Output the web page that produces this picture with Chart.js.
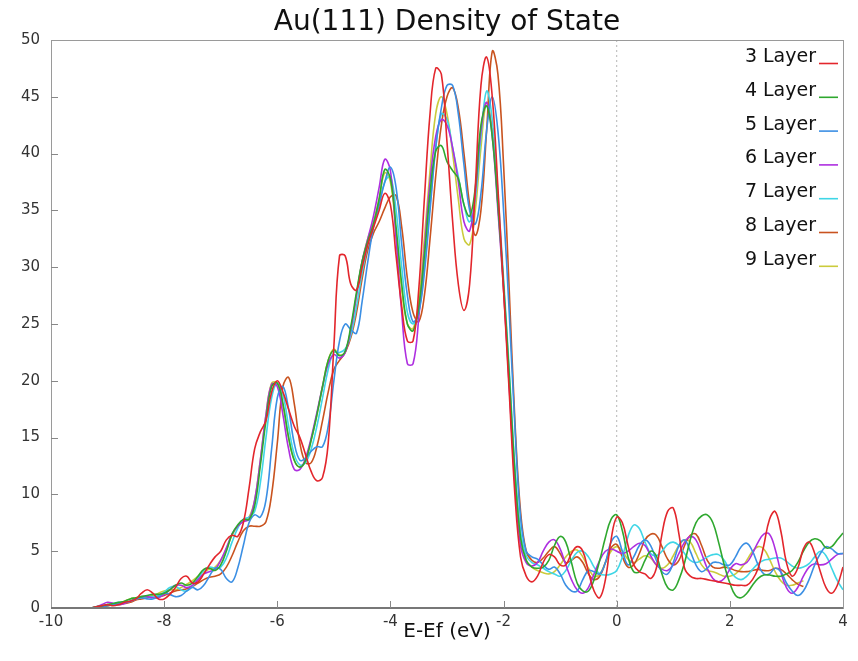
<!doctype html>
<html>
<head>
<meta charset="utf-8">
<title>Au(111) Density of State</title>
<script src="https://cdn.jsdelivr.net/npm/chart.js@4.4.0/dist/chart.umd.min.js"></script>
<style>
  html, body { margin: 0; padding: 0; background: #fff; }
</style>
</head>
<body>
<canvas id="myChart" width="858" height="661"></canvas>
<script>
// energy grid, E - Ef in eV, 0.1 eV steps from -10 to 4
var energy = [];
for (var i = 0; i <= 140; i++) energy.push(Math.round((-10 + i * 0.1) * 10) / 10);

var layerNames = ['3 Layer', '4 Layer', '5 Layer', '6 Layer', '7 Layer', '8 Layer', '9 Layer'];
var layerColors = ['#e3262c', '#2fa82f', '#3b8fe4', '#ae2fe0', '#3fd6e6', '#c9531f', '#cbcb3c'];

// one row = 1 eV (10 samples), last value is E = 4.0
var dos3 = [
  0,0,0,0,0,0,0,0,0.1,0.2,
  0.3,0.2,0.3,0.5,0.6,0.8,1.3,1.6,1.3,0.8,
  0.8,1.2,1.8,2.6,2.8,2.2,2.3,3.0,3.8,4.5,
  5.0,6.0,6.4,6.3,7.5,10.5,14,15.5,16.5,19,
  20,19,17.5,16,15,13.5,12,11.2,11.5,14.5,
  23,31,31,28.5,28,30,32,33.5,35,36.5,
  35.5,31,26.5,23.5,23.5,28,36,43.5,47.5,47,
  41,34,28.5,26.2,28.5,37,46,48.5,45,37,
  28,19,10,4.5,2.8,2.3,2.8,4.0,4.7,4.5,
  3.8,3.8,4.8,5.4,5.0,3.2,1.5,0.9,2.5,6.0,
  8.0,7.5,5.5,3.8,3.2,3.0,2.6,3.5,6.5,8.5,
  8.8,6.5,3.5,2.8,2.6,2.6,2.5,2.4,2.3,2.2,
  2.1,2.0,2.0,2.0,2.5,3.5,5.5,7.8,8.5,6.8,
  4.0,2.8,3.5,5.2,5.8,4.8,3.2,1.8,1.3,2.0,
  3.6
];
var dos4 = [
  0,0,0,0,0,0,0,0,0.1,0.2,
  0.3,0.4,0.5,0.6,0.8,0.9,1.0,1.1,1.2,1.2,
  1.3,1.6,2.0,2.2,2.0,2.2,2.8,3.4,3.5,3.3,
  3.8,5.0,6.5,7.3,7.8,7.8,9.0,12.5,16.5,19.5,
  19.8,18,15,13,12.4,13,14.8,17,19.5,21.8,
  22.7,22.2,22.6,24.8,27.8,30.5,32.3,33.8,36,38.6,
  37.8,33.5,28.5,25,24.4,26.5,31,36.5,40.2,40.7,
  39.3,38.5,37.8,35.5,34.5,37,42.5,44.2,41.5,35.5,
  28.5,20.5,12,6.2,4.2,3.6,3.5,3.6,4.2,5.5,
  6.3,5.8,4.0,2.2,1.5,1.5,2.5,4.2,6.2,7.8,
  8.2,6.8,4.5,3.2,3.2,4.2,5.0,4.6,3.0,1.8,
  1.6,2.5,4.0,6.0,7.5,8.1,8.2,7.5,5.8,3.8,
  2.2,1.1,0.9,1.3,2.0,2.6,2.9,2.9,2.8,2.8,
  3.0,3.3,4.0,5.0,5.8,6.1,5.9,5.3,5.4,6.0,
  6.6
];
var dos5 = [
  0,0,0,0,0,0,0,0,0,0.1,
  0.2,0.3,0.4,0.5,0.6,0.8,0.9,0.8,0.8,1.0,
  1.3,1.2,1.0,1.1,1.5,1.8,1.6,2.0,2.8,3.5,
  3.4,2.6,2.3,3.5,5.5,7.5,8.2,8.0,9.5,14,
  18.5,19.5,17.5,14.5,13,13.2,13.8,14.2,14.2,16,
  20,23.5,25,24.5,24.2,27,30.5,33.5,35.5,37.5,
  38.8,37,32,27.5,25.2,26,29.5,35,40.5,44,
  46,46,43.5,39,35,33.8,36.5,42,45,42,
  35,26,16,8,5,4.5,4.3,3.8,3.4,3.6,
  3.0,2.0,1.5,1.5,2.5,3.3,3.2,3.0,4.0,5.8,
  6.3,5.0,3.8,4.5,5.5,6.0,5.5,4.2,3.2,3.0,
  4.0,5.5,6.0,5.0,3.8,3.2,3.5,4.0,4.0,3.8,
  3.8,4.5,5.4,5.7,5.0,3.8,3.0,3.0,3.5,3.2,
  2.2,1.5,1.1,1.5,2.5,3.8,4.8,5.4,5.2,4.8,
  4.8
];
var dos6 = [
  0,0,0,0,0,0,0,0,0.1,0.3,
  0.5,0.4,0.3,0.4,0.6,0.8,1.0,1.0,0.9,0.9,
  1.2,1.6,2.0,2.0,1.8,2.0,2.5,3.0,3.2,3.4,
  4.2,5.3,6.5,7.2,7.6,7.8,9.5,13,17,19.7,
  19.5,17,14,12.2,12.2,13.2,15,17.2,19.5,21.5,
  22.3,22,22.5,24.5,27.5,30.5,32.5,34.5,37,39.5,
  38.5,32.5,26,21.5,21.5,25.5,31.5,37.5,41.5,43,
  42.5,40.5,37.5,34,33.2,36.5,42,44.5,41.5,35,
  28,19.5,11,5.5,4.0,3.7,4.0,5.0,5.8,6.0,
  5.2,3.8,2.5,1.6,1.3,1.8,3.0,4.2,5.0,5.2,
  5.0,4.8,5.0,5.4,5.7,5.5,4.6,3.8,3.4,3.3,
  3.8,4.8,5.8,6.3,6.0,4.8,3.5,2.6,2.3,2.6,
  3.4,3.9,3.8,4.0,4.8,5.8,6.5,6.5,5.2,3.2,
  1.8,1.3,1.8,2.8,3.6,3.9,3.8,3.9,4.3,4.7,
  4.8
];
var dos7 = [
  0,0,0,0,0,0,0,0,0.1,0.2,
  0.3,0.4,0.5,0.5,0.6,0.8,0.9,1.0,1.0,1.1,
  1.4,1.8,1.9,1.6,1.5,1.9,2.6,3.3,3.6,3.5,
  3.6,4.4,5.8,7.0,7.8,8.0,8.5,11,15,18.5,
  19.8,18.8,16,13.5,12.6,12.8,14,16,18.5,21,
  22.5,22.5,22.8,24,26.5,29.5,32,33.8,35.5,37.5,
  38,35,30,26,25,26,30,35.5,40.5,43.5,
  43,40.5,38,35.5,34,36,41.5,45.5,43,36.5,
  29,21,12.5,6.8,4.6,4.0,3.8,3.5,3.2,3.0,
  2.8,3.3,4.2,4.9,5.0,4.5,3.6,3.0,2.9,3.0,
  3.3,4.5,6.3,7.3,7.0,5.8,4.8,4.6,5.0,5.6,
  5.8,5.5,4.8,4.2,4.0,4.2,4.5,4.7,4.7,4.2,
  3.3,2.7,2.5,2.8,3.4,3.9,4.2,4.3,4.4,4.4,
  4.1,3.7,3.5,3.6,3.9,4.5,5.0,4.6,3.5,2.4,
  1.6
];
var dos8 = [
  0,0,0,0,0,0,0,0,0,0.1,
  0.2,0.3,0.3,0.4,0.5,0.7,0.8,0.9,1.0,1.0,
  1.1,1.3,1.5,1.6,1.7,1.9,2.2,2.5,2.7,2.8,
  3.0,3.6,4.6,5.8,6.8,7.2,7.2,7.2,7.6,10,
  14.5,19.5,20.3,18,14.5,12.8,12.8,14.2,16.5,19,
  21,21.8,22.5,23.8,26,29,31.5,33,34,35.2,
  36.2,36.3,33.5,29,26,25.2,27.5,32.5,38,42.5,
  45,45.8,44,40,35.5,32.8,35,42,49,47,
  39,28,16.5,8.5,5.0,4.2,4.0,4.4,5.0,5.4,
  4.8,4.0,4.2,4.5,4.0,3.0,2.5,2.8,4.0,5.3,
  5.6,4.5,3.6,3.8,4.8,6.0,6.5,6.4,5.4,4.3,
  3.8,4.2,5.5,6.4,6.5,5.5,4.2,3.6,3.5,3.6,
  3.5,3.3,3.2,3.2,3.3,3.4,3.3,3.3,3.5,3.4,
  3.0,2.5,2.1,1.9,null,null,null,null,null,null,
  null
];
var dos9 = [
  0,0,0,0,0,0,0,0,0.1,0.2,
  0.2,0.3,0.4,0.6,0.8,0.9,1.0,1.0,1.1,1.3,
  1.5,1.6,1.6,1.8,2.1,2.4,2.8,3.2,3.4,3.6,
  4.2,5.2,6.4,7.2,7.7,8.0,9.5,13,17,19.8,
  19.8,17.8,15,13,12.4,13,14.8,17,19.5,21.8,
  22.8,22.3,22.5,24.5,27.5,30.5,32.5,34,36,38.3,
  37.5,33,28,25,24.6,27,32.5,38.5,43.5,45,
  43.5,40,36,32.5,32,35,40.5,44.5,42,35.5,
  28,20,11.5,6.2,4.2,3.6,3.3,3.1,3.0,3.2,
  3.8,4.5,5.0,5.1,4.5,3.5,2.8,3.0,4.0,5.0,
  5.4,5.0,4.3,4.0,4.3,4.6,4.4,3.8,3.5,3.8,
  4.6,5.5,6.0,5.8,4.8,3.8,3.3,3.2,3.0,2.8,
  2.8,3.0,3.5,4.2,5.0,5.4,5.2,4.3,3.2,2.4,
  2.0,2.0,2.2,2.4,null,null,null,null,null,null,
  null
];
var layerData = [dos3, dos4, dos5, dos6, dos7, dos8, dos9];

Chart.defaults.font.family = "'DejaVu Sans', sans-serif";

var datasets = layerNames.map(function (name, k) {
  return {
    label: name,
    data: energy.map(function (e, i) { return { x: e, y: layerData[k][i] }; }),
    borderColor: layerColors[k],
    backgroundColor: 'transparent',
    borderWidth: 1.6,
    pointRadius: 0,
    tension: 0.4,
    spanGaps: false
  };
});

// frame, inward ticks, dotted Ef line, title and legend
var decor = {
  id: 'decor',
  beforeDatasetsDraw: function (chart) {
    var ctx = chart.ctx, a = chart.chartArea;
    var x0 = chart.scales.x.getPixelForValue(0);
    ctx.save();
    ctx.strokeStyle = '#b5b5b5';
    ctx.lineWidth = 1;
    ctx.setLineDash([2, 3]);
    ctx.beginPath();
    ctx.moveTo(x0, a.top);
    ctx.lineTo(x0, a.bottom);
    ctx.stroke();
    ctx.restore();
  },
  afterDraw: function (chart) {
    var ctx = chart.ctx, a = chart.chartArea;
    var xs = chart.scales.x, ys = chart.scales.y;
    ctx.save();
    ctx.strokeStyle = '#9a9a9a';
    ctx.lineWidth = 1;
    ctx.strokeRect(a.left + 0.5, a.top + 0.5, a.right - a.left, a.bottom - a.top);
    ctx.strokeStyle = '#777';
    ctx.lineWidth = 2;
    ctx.beginPath();
    ctx.moveTo(a.left, a.bottom);
    ctx.lineTo(a.right, a.bottom);
    ctx.stroke();
    // ticks pointing into the plot
    ctx.lineWidth = 1;
    ctx.strokeStyle = '#888';
    ctx.beginPath();
    for (var v = -8; v < 4; v += 2) {
      var px = Math.round(xs.getPixelForValue(v)) + 0.5;
      ctx.moveTo(px, a.bottom);
      ctx.lineTo(px, a.bottom - 7);
    }
    for (var w = 5; w < 50; w += 5) {
      var py = Math.round(ys.getPixelForValue(w)) + 0.5;
      ctx.moveTo(a.left, py);
      ctx.lineTo(a.left + 7, py);
    }
    ctx.stroke();

    // title
    ctx.fillStyle = '#111';
    ctx.font = "28px 'DejaVu Sans'";
    ctx.textAlign = 'center';
    ctx.textBaseline = 'middle';
    ctx.fillText('Au(111) Density of State', (a.left + a.right) / 2, 23);

    // legend, text on the left of a short line sample
    ctx.font = "19px 'DejaVu Sans'";
    ctx.textAlign = 'right';
    chart.data.datasets.forEach(function (ds, k) {
      var y = 57 + k * 33.8;
      ctx.fillStyle = '#111';
      ctx.fillText(ds.label, 816, y);
      ctx.strokeStyle = ds.borderColor;
      ctx.lineWidth = 1.6;
      ctx.beginPath();
      ctx.moveTo(819, y + 6.5);
      ctx.lineTo(838, y + 6.5);
      ctx.stroke();
    });
    ctx.restore();
  }
};

var chart = new Chart(document.getElementById('myChart').getContext('2d'), {
  type: 'line',
  data: { datasets: datasets },
  options: {
    responsive: false,
    animation: false,
    layout: { padding: { top: 40, right: 15, left: 0, bottom: 0 } },
    plugins: {
      legend: { display: false },
      title: { display: false },
      tooltip: { enabled: false }
    },
    scales: {
      x: {
        type: 'linear',
        min: -10,
        max: 4,
        ticks: { stepSize: 2, color: '#333', font: { size: 15 }, padding: 5, maxRotation: 0 },
        grid: { display: false, drawTicks: false },
        border: { display: false },
        title: { display: true, text: 'E-Ef (eV)', color: '#111', font: { size: 20 }, padding: { top: 0, bottom: 17 } },
        afterFit: function (s) { s.height = 53; }
      },
      y: {
        min: 0,
        max: 50,
        ticks: { stepSize: 5, color: '#333', font: { size: 15 }, padding: 11 },
        grid: { display: false, drawTicks: false },
        border: { display: false },
        afterFit: function (s) { s.width = 51; }
      }
    }
  },
  plugins: [decor]
});
</script>
</body>
</html>
